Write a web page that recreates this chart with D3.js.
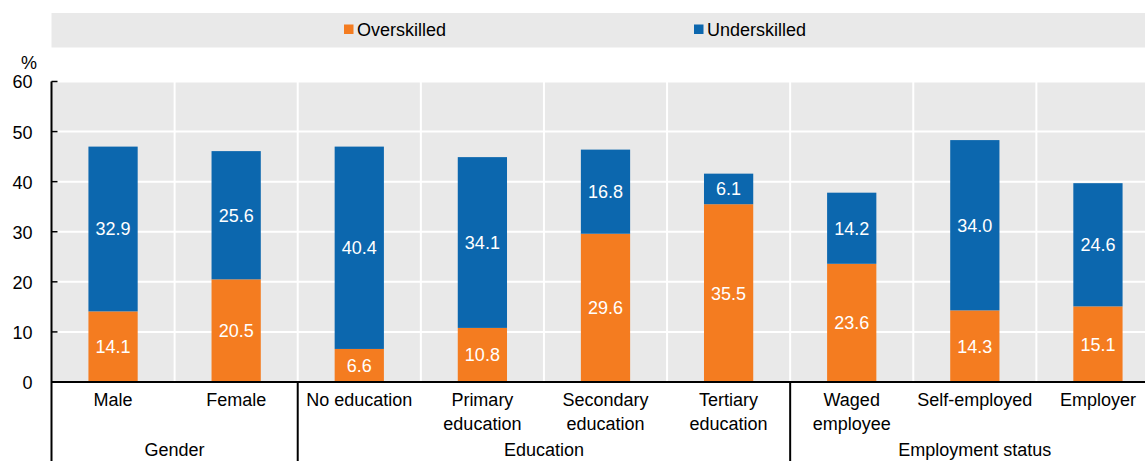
<!DOCTYPE html>
<html>
<head>
<meta charset="utf-8">
<script src="https://cdn.jsdelivr.net/npm/d3@7"></script>
<style>
  html, body { margin: 0; padding: 0; background: #fff; }
  svg { display: block; }
  text { font-family: "Liberation Sans Narrow", "Arial Narrow", "Liberation Sans", Arial, sans-serif; fill: #000; }
</style>
</head>
<body>
<svg id="chart" width="1145" height="461"></svg>
<script>
const categories = ["Male", "Female", "No education", "Primary education", "Secondary education", "Tertiary education", "Waged employee", "Self-employed", "Employer"];
const categoryLines = [["Male"], ["Female"], ["No education"], ["Primary", "education"], ["Secondary", "education"], ["Tertiary", "education"], ["Waged", "employee"], ["Self-employed"], ["Employer"]];
const overskilled = [14.1, 20.5, 6.6, 10.8, 29.6, 35.5, 23.6, 14.3, 15.1];
const underskilled = [32.9, 25.6, 40.4, 34.1, 16.8, 6.1, 14.2, 34.0, 24.6];
const seriesNames = ["Overskilled", "Underskilled"];
const groups = [
  { name: "Gender", start: 0, end: 1 },
  { name: "Education", start: 2, end: 5 },
  { name: "Employment status", start: 6, end: 8 }
];
const yTicks = [0, 10, 20, 30, 40, 50, 60];
const colors = { Overskilled: "#f47c20", Underskilled: "#0c67ae" };

const svg = d3.select("#chart");
const pLeft = 51.5, pRight = 1159.5, pTop = 81.5, pBottom = 382;

const x = d3.scaleBand().domain(categories).range([pLeft, pRight]).paddingInner(0).paddingOuter(0);
const bw = x.bandwidth() * 0.4;
const y = d3.scaleLinear().domain([0, 60]).range([pBottom, pTop]);

// Legend band
svg.append("rect").attr("x", pLeft).attr("y", 13).attr("width", 1145 - pLeft).attr("height", 34.5).attr("fill", "#e9e9e9");
const legendX = [344, 694];
seriesNames.forEach((s, i) => {
  svg.append("rect").attr("x", legendX[i]).attr("y", 24.5).attr("width", 9.5).attr("height", 9.5).attr("fill", colors[s]);
  svg.append("text").attr("x", legendX[i] + 13).attr("y", 35.5).attr("font-size", 18).text(s);
});

// Plot background
svg.append("rect").attr("x", pLeft).attr("y", pTop).attr("width", pRight - pLeft).attr("height", pBottom - pTop).attr("fill", "#e9e9e9");

// horizontal gridlines
svg.append("g").selectAll("line").data(yTicks.filter(d => d > 0)).join("line")
  .attr("x1", pLeft).attr("x2", pRight).attr("y1", d => y(d)).attr("y2", d => y(d))
  .attr("stroke", "#fff").attr("stroke-width", 2);

// vertical gridlines at band boundaries
svg.append("g").selectAll("line").data(categories.slice(1)).join("line")
  .attr("x1", d => x(d)).attr("x2", d => x(d)).attr("y1", pTop).attr("y2", pBottom)
  .attr("stroke", "#fff").attr("stroke-width", 2);

// stacked data
const rows = categories.map((c, i) => ({ cat: c, Overskilled: overskilled[i], Underskilled: underskilled[i] }));
const stack = d3.stack().keys(seriesNames)(rows);

const barG = svg.append("g");
stack.forEach(layer => {
  barG.append("g").attr("fill", colors[layer.key]).selectAll("rect").data(layer).join("rect")
    .attr("x", d => x(d.data.cat) + (x.bandwidth() - bw) / 2)
    .attr("width", bw)
    .attr("y", d => y(d[1]))
    .attr("height", d => y(d[0]) - y(d[1]));
  barG.append("g").selectAll("text").data(layer).join("text")
    .attr("x", d => x(d.data.cat) + x.bandwidth() / 2)
    .attr("y", d => (y(d[0]) + y(d[1])) / 2)
    .attr("dy", "0.36em")
    .attr("text-anchor", "middle")
    .attr("font-size", 18)
    .style("fill", "#fff")
    .text(d => (d[1] - d[0]).toFixed(1));
});

// Y axis
const yAxis = d3.axisLeft(y).tickValues(yTicks).tickSize(0).tickPadding(0);
const ya = svg.append("g").attr("transform", `translate(${pLeft},0)`).call(yAxis);
ya.select(".domain").remove();
ya.selectAll("text").attr("x", -19).attr("font-size", 18).attr("font-family", null).attr("dy", "0.36em").style("fill", "#000");
ya.attr("font-family", null).attr("font-size", null);
svg.append("g").selectAll("line").data(yTicks).join("line")
  .attr("x1", pLeft).attr("x2", pLeft + 6).attr("y1", d => y(d)).attr("y2", d => y(d))
  .attr("stroke", "#000").attr("stroke-width", 1.5);
svg.append("text").attr("x", 29).attr("y", 69).attr("text-anchor", "middle").attr("font-size", 18).text("%");

// axis line
svg.append("line").attr("x1", pLeft).attr("x2", pLeft).attr("y1", pTop).attr("y2", 461).attr("stroke", "#000").attr("stroke-width", 2);
// zero line
svg.append("line").attr("x1", pLeft).attr("x2", pRight).attr("y1", y(0)).attr("y2", y(0)).attr("stroke", "#000").attr("stroke-width", 2.2);

// group separators
groups.slice(1).forEach(g => {
  const gx = x(categories[g.start]);
  svg.append("line").attr("x1", gx).attr("x2", gx).attr("y1", y(0)).attr("y2", 461).attr("stroke", "#000").attr("stroke-width", 2);
});

// category labels
const catG = svg.append("g");
categories.forEach((c, i) => {
  const t = catG.append("text").attr("x", x(c) + x.bandwidth() / 2).attr("y", 406).attr("text-anchor", "middle").attr("font-size", 18);
  categoryLines[i].forEach((ln, j) => {
    t.append("tspan").attr("x", x(c) + x.bandwidth() / 2).attr("y", 406 + j * 23.5).text(ln);
  });
});

// group labels
groups.forEach(g => {
  const gx0 = x(categories[g.start]);
  const gx1 = x(categories[g.end]) + x.bandwidth();
  svg.append("text").attr("x", (gx0 + gx1) / 2).attr("y", 456).attr("text-anchor", "middle").attr("font-size", 18).text(g.name);
});
</script>
</body>
</html>
